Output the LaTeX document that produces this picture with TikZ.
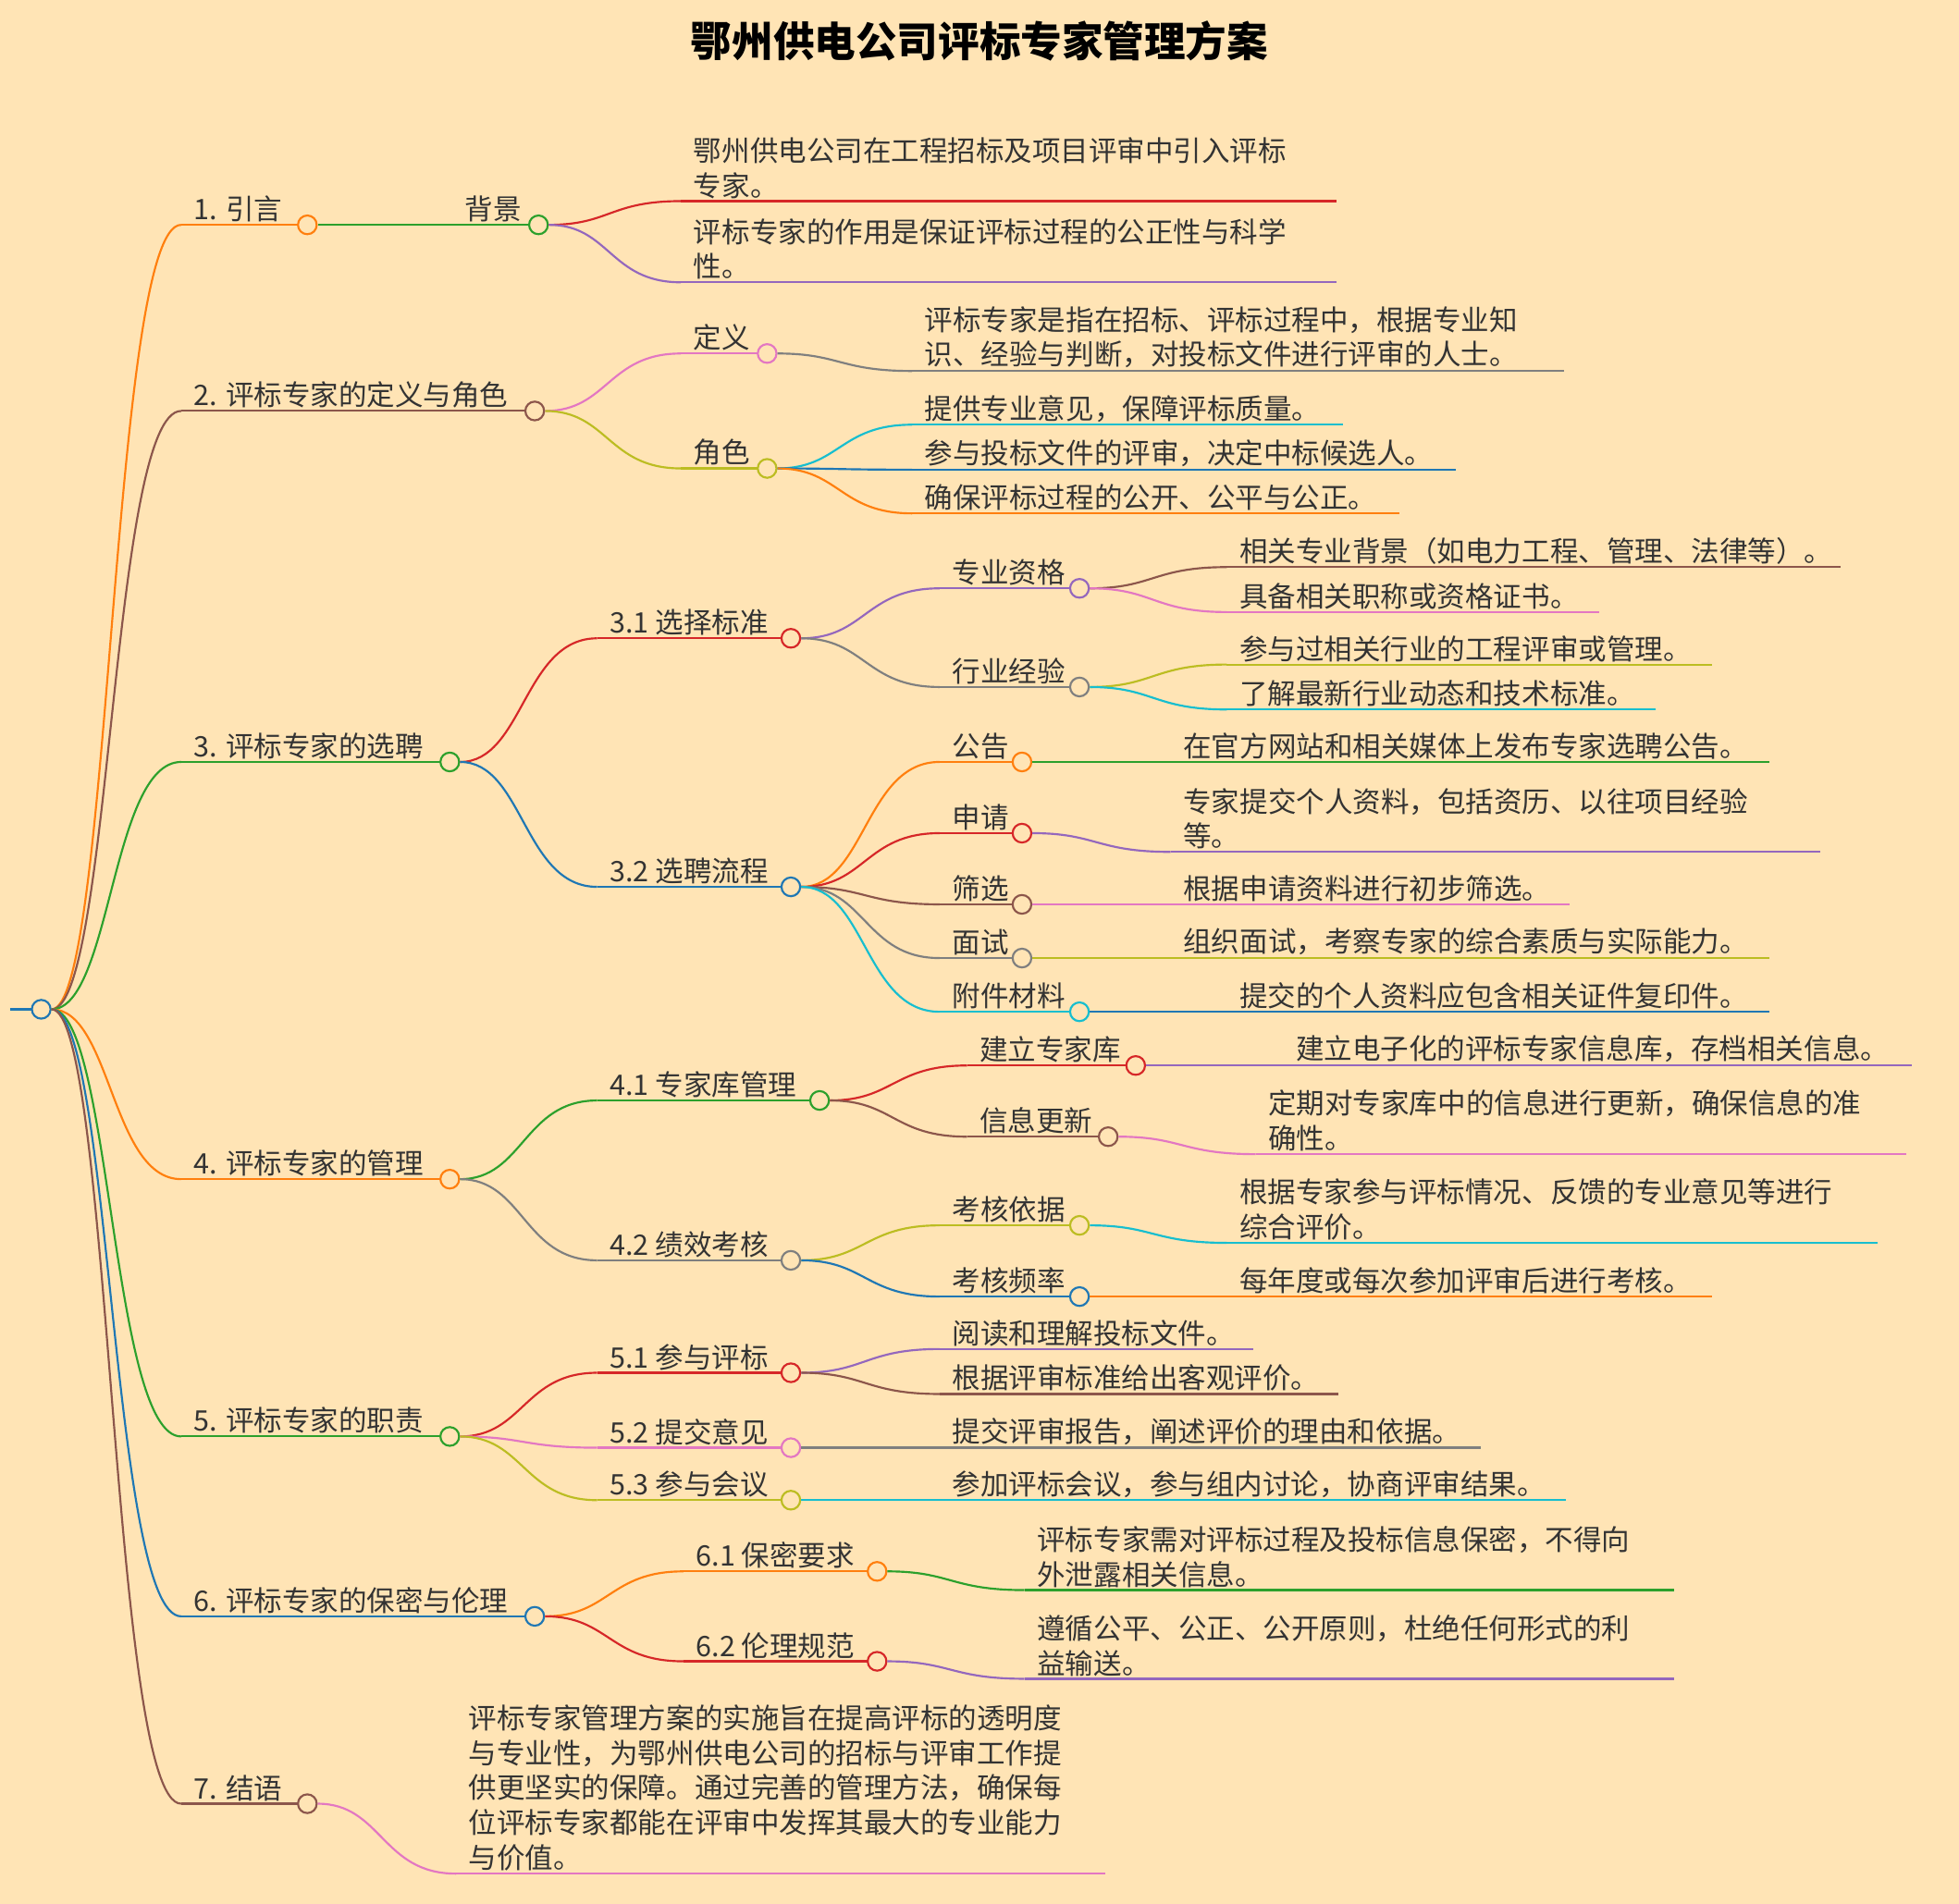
\documentclass[tikz,border=0pt]{standalone}
\usepackage{fontspec}
\setmainfont{Noto Sans CJK SC}
\usetikzlibrary{calc}
\definecolor{bg}{HTML}{FFE4B5}
\definecolor{cO}{HTML}{FF7F0E}\definecolor{cB}{HTML}{8C564B}\definecolor{cG}{HTML}{2CA02C}
\definecolor{cR}{HTML}{D62728}\definecolor{cP}{HTML}{9467BD}\definecolor{cK}{HTML}{E377C2}
\definecolor{cY}{HTML}{7F7F7F}\definecolor{cL}{HTML}{BCBD22}\definecolor{cC}{HTML}{17BECF}
\definecolor{cU}{HTML}{1F77B4}\definecolor{tx}{HTML}{333333}
\tikzset{
 dot/.style={circle,draw=#1,fill=bg,line width=1.6pt,minimum size=15pt,inner sep=0pt},
 lbl/.style={text=tx,font=\fontsize{22.6}{28}\selectfont,align=left,inner sep=2pt,anchor=south west},
 ln/.style={#1,line width=1.6pt}
}
\newcommand\conn[3]{% parent, childstart name, color
 \coordinate (#2m) at ($(#1)!.5!(#2)$);
 \draw[ln=#3] (#1.east) .. controls (#2m |- #1) and (#2m |- #2) .. (#2);}
\newcommand\br[7]{% name parent x0 x1 y color text
 \coordinate (#1s) at (#3,#5);
 \conn{#2}{#1s}{#6}
 \draw[ln=#6] (#1s) -- (#4,#5);
 \node[lbl] (#1t) at ($(#1s)+(8,0)$) {#7};
 \node[dot=#6] (#1) at (#4,#5) {};}
\newcommand\lf[7]{% name parent x0 x1 y color text
 \coordinate (#1s) at (#3,#5);
 \coordinate (#1e) at (#4,#5);
 \conn{#2}{#1s}{#6}
 \draw[ln=#6] (#1s) -- (#1e);
 \node[lbl] (#1t) at ($(#1s)+(8,0)$) {#7};}
\begin{document}
\begin{tikzpicture}[x=1pt,y=-1pt]
\fill[bg] (0,0) rectangle (1568,1524);
\useasboundingbox (0,0) rectangle (1568,1524);
\node[text=black,font=\fontsize{33}{38}\selectfont\bfseries] (title) at (784,33) {鄂州供电公司评标专家管理方案};
\coordinate (rs) at (8,808);
\draw[ln=cU] (rs) -- (33,808);
\node[dot=cU] (r) at (33,808) {};
% level 1
\br{a}{r}{145}{246}{180}{cO}{1. 引言}
\br{b}{r}{145}{428}{329}{cB}{2. 评标专家的定义与角色}
\br{c}{r}{145}{360}{610}{cG}{3. 评标专家的选聘}
\br{d}{r}{145}{360}{944}{cO}{4. 评标专家的管理}
\br{e}{r}{145}{360}{1150}{cG}{5. 评标专家的职责}
\br{f}{r}{145}{428}{1294}{cU}{6. 评标专家的保密与伦理}
\br{g}{r}{145}{246}{1444}{cB}{7. 结语}
% 1
\br{a1}{a}{362}{431}{180}{cG}{背景}
\lf{a1a}{a1}{545}{1070}{161}{cR}{鄂州供电公司在工程招标及项目评审中引入评标\\专家。}
\lf{a1b}{a1}{545}{1070}{226}{cP}{评标专家的作用是保证评标过程的公正性与科学\\性。}
% 2
\br{b1}{b}{545}{614}{283}{cK}{定义}
\br{b2}{b}{545}{614}{375}{cL}{角色}
\lf{b1a}{b1}{730}{1252}{297}{cY}{评标专家是指在招标、评标过程中，根据专业知\\识、经验与判断，对投标文件进行评审的人士。}
\lf{b2a}{b2}{730}{1075}{340}{cC}{提供专业意见，保障评标质量。}
\lf{b2b}{b2}{730}{1165}{376}{cU}{参与投标文件的评审，决定中标候选人。}
\lf{b2c}{b2}{730}{1120}{411}{cO}{确保评标过程的公开、公平与公正。}
% 3
\br{c1}{c}{478}{633}{511}{cR}{3.1 选择标准}
\br{c2}{c}{478}{633}{710}{cU}{3.2 选聘流程}
\br{c11}{c1}{752}{864}{471}{cP}{专业资格}
\br{c12}{c1}{752}{864}{550}{cY}{行业经验}
\lf{c11a}{c11}{982}{1473}{454}{cB}{相关专业背景（如电力工程、管理、法律等）。}
\lf{c11b}{c11}{982}{1280}{490}{cK}{具备相关职称或资格证书。}
\lf{c12a}{c12}{982}{1370}{532}{cL}{参与过相关行业的工程评审或管理。}
\lf{c12b}{c12}{982}{1325}{568}{cC}{了解最新行业动态和技术标准。}
\br{c21}{c2}{752}{818}{610}{cO}{公告}
\br{c22}{c2}{752}{818}{667}{cR}{申请}
\br{c23}{c2}{752}{818}{724}{cB}{筛选}
\br{c24}{c2}{752}{818}{767}{cY}{面试}
\br{c25}{c2}{752}{864}{810}{cC}{附件材料}
\lf{c21a}{c21}{937}{1416}{610}{cG}{在官方网站和相关媒体上发布专家选聘公告。}
\lf{c22a}{c22}{937}{1457}{682}{cP}{专家提交个人资料，包括资历、以往项目经验\\等。}
\lf{c23a}{c23}{937}{1256}{724}{cK}{根据申请资料进行初步筛选。}
\lf{c24a}{c24}{937}{1416}{767}{cL}{组织面试，考察专家的综合素质与实际能力。}
\lf{c25a}{c25}{982}{1416}{810}{cU}{提交的个人资料应包含相关证件复印件。}
% 4
\br{d1}{d}{478}{656}{881}{cG}{4.1 专家库管理}
\br{d2}{d}{478}{633}{1009}{cY}{4.2 绩效考核}
\br{d11}{d1}{774}{909}{853}{cR}{建立专家库}
\br{d12}{d1}{774}{887}{910}{cB}{信息更新}
\lf{d11a}{d11}{1027}{1530}{853}{cP}{建立电子化的评标专家信息库，存档相关信息。}
\lf{d12a}{d12}{1005}{1526}{924}{cK}{定期对专家库中的信息进行更新，确保信息的准\\确性。}
\br{d21}{d2}{752}{864}{981}{cL}{考核依据}
\br{d22}{d2}{752}{864}{1038}{cU}{考核频率}
\lf{d21a}{d21}{982}{1503}{995}{cC}{根据专家参与评标情况、反馈的专业意见等进行\\综合评价。}
\lf{d22a}{d22}{982}{1370}{1038}{cO}{每年度或每次参加评审后进行考核。}
% 5
\br{e1}{e}{478}{633}{1099}{cR}{5.1 参与评标}
\br{e2}{e}{478}{633}{1159}{cK}{5.2 提交意见}
\br{e3}{e}{478}{633}{1201}{cL}{5.3 参与会议}
\lf{e1a}{e1}{752}{1003}{1080}{cP}{阅读和理解投标文件。}
\lf{e1b}{e1}{752}{1071}{1116}{cB}{根据评审标准给出客观评价。}
\lf{e2a}{e2}{752}{1185}{1159}{cY}{提交评审报告，阐述评价的理由和依据。}
\lf{e3a}{e3}{752}{1253}{1201}{cC}{参加评标会议，参与组内讨论，协商评审结果。}
% 6
\br{f1}{f}{547}{702}{1258}{cO}{6.1 保密要求}
\br{f2}{f}{547}{702}{1330}{cR}{6.2 伦理规范}
\lf{f1a}{f1}{820}{1340}{1273}{cG}{评标专家需对评标过程及投标信息保密，不得向\\外泄露相关信息。}
\lf{f2a}{f2}{820}{1340}{1344}{cP}{遵循公平、公正、公开原则，杜绝任何形式的利\\益输送。}
% 7
\lf{g1}{g}{365}{885}{1500}{cK}{评标专家管理方案的实施旨在提高评标的透明度\\与专业性，为鄂州供电公司的招标与评审工作提\\供更坚实的保障。通过完善的管理方法，确保每\\位评标专家都能在评审中发挥其最大的专业能力\\与价值。}
\end{tikzpicture}
\end{document}
